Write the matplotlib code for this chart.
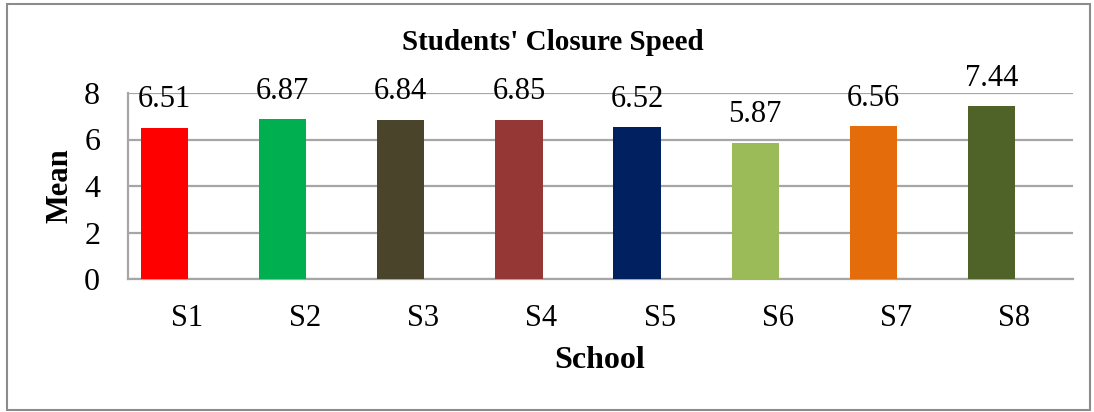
import matplotlib.pyplot as plt
from matplotlib.patches import Rectangle
import numpy as np

# chart data
schools = ["S1", "S2", "S3", "S4", "S5", "S6", "S7", "S8"]
means = [6.51, 6.87, 6.84, 6.85, 6.52, 5.87, 6.56, 7.44]
colors = ["#ff0000", "#00b050", "#4a452a", "#953735", "#002060",
          "#9bbb59", "#e46c0a", "#4f6228"]

plt.rcParams['font.family'] = ['Liberation Serif', 'DejaVu Serif']

W, H = 1094, 412
fig = plt.figure(figsize=(W / 100, H / 100), dpi=100)

# plot area in pixels: left 128, right 1073, top 93, bottom 279
ax = fig.add_axes([128 / W, 1 - 279 / H, (1073 - 128) / W, (279 - 93) / H])

x = np.arange(len(schools))
# bars sit left of the category centre (empty second series in the original)
bars = ax.bar(x - 0.19, means, width=0.4, color=colors, zorder=3)

for b, v in zip(bars, means):
    ax.text(b.get_x() + b.get_width() / 2, v + 0.58, "%.2f" % v,
            ha="center", va="bottom", fontsize=22)

ax.set_xlim(-0.5, len(schools) - 0.5)
ax.set_ylim(0, 8)
ax.set_yticks([0, 2, 4, 6, 8])
ax.set_xticks(x)
ax.set_xticklabels(schools)
ax.tick_params(axis="y", length=0, labelsize=23, pad=20)
ax.tick_params(axis="x", length=0, labelsize=22, pad=18)

ax.grid(axis="y", color="#a6a6a6", linewidth=1.6, zorder=0)
for s in ["top", "right"]:
    ax.spines[s].set_visible(False)
ax.spines["left"].set_color("#a6a6a6")
ax.spines["bottom"].set_color("#a6a6a6")
ax.spines["left"].set_linewidth(1.6)
ax.spines["bottom"].set_linewidth(1.6)

fig.text(553 / W, 1 - 43 / H, "Students' Closure Speed", ha="center",
         va="center", fontsize=21, fontweight="bold")
fig.text(60 / W, 1 - 186 / H, "Mean", ha="center", va="center",
         rotation=90, fontsize=22, fontweight="bold")
fig.text(600 / W, 1 - 361 / H, "School", ha="center", va="center",
         fontsize=23, fontweight="bold")

# outer chart border
fig.patches.append(Rectangle((7 / W, 1 - 410 / H), (1090 - 7) / W, (410 - 4) / H,
                             transform=fig.transFigure, fill=False,
                             edgecolor="#8c8c8c", linewidth=1.5))

fig.savefig("out.png", dpi=100)
